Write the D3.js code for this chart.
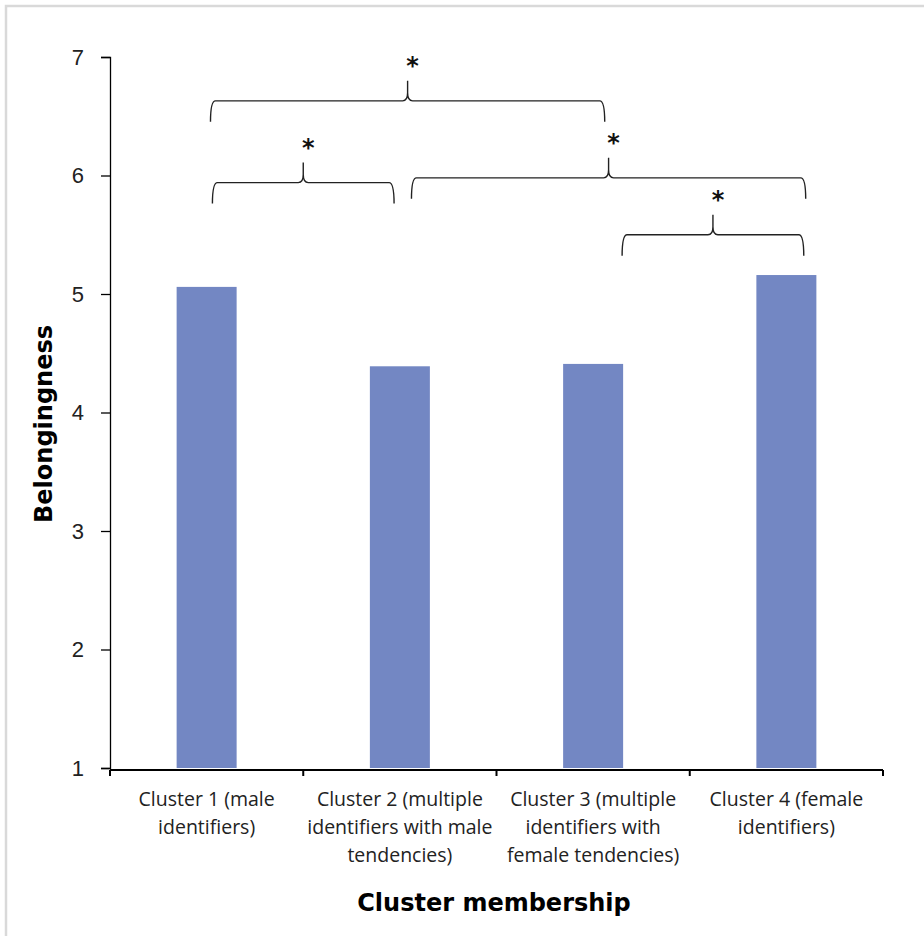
<!DOCTYPE html>
<html>
<head>
<meta charset="utf-8">
<script src="https://cdn.jsdelivr.net/npm/d3@7"></script>
<style>
  body { margin: 0; background: #fff; }
  svg { display: block; }
  text { font-variant-ligatures: none; }
</style>
</head>
<body>
<svg width="924" height="936"></svg>
<script>
// data
const clusters = [
  ["Cluster 1 (male", "identifiers)"],
  ["Cluster 2 (multiple", "identifiers with male", "tendencies)"],
  ["Cluster 3 (multiple", "identifiers with", "female tendencies)"],
  ["Cluster 4 (female", "identifiers)"]
];
const belonging = [5.06, 4.39, 4.41, 5.16];
const yTicks = [1, 2, 3, 4, 5, 6, 7];

// significance brackets: span in category units, level in y units
const bracketFrom = [0.52, 0.53, 1.56, 2.65];
const bracketTo = [2.56, 1.47, 3.60, 3.59];
const bracketLevel = [6.63, 5.94, 5.98, 5.50];
const bracketLabel = ["*", "*", "*", "*"];

const svg = d3.select("svg");

// grey frame (cropped screenshot edge)
svg.append("rect").attr("x", 6).attr("y", 6).attr("width", 940).attr("height", 960)
  .attr("fill", "none").attr("stroke", "#d9d9d9").attr("stroke-width", 2.5);

const plot = {left: 110, right: 883, top: 57, bottom: 768};

const x = d3.scaleBand().domain(d3.range(clusters.length)).range([plot.left, plot.right]).paddingInner(0).paddingOuter(0);
const xPos = d3.scaleLinear().domain([0, clusters.length]).range([plot.left, plot.right]);
const y = d3.scaleLinear().domain([1, 7]).range([plot.bottom, plot.top]);

const barW = 60;

// bars
svg.append("g").selectAll("rect").data(belonging).enter().append("rect")
  .attr("x", (d, i) => x(i) + x.bandwidth() / 2 - barW / 2)
  .attr("y", d => y(d))
  .attr("width", barW)
  .attr("height", d => y(1) - y(d))
  .attr("fill", "#7387c3");

// y axis
const yAxis = svg.append("g").attr("transform", `translate(${plot.left},0)`)
  .call(d3.axisLeft(y).tickValues(yTicks).tickSize(9).tickPadding(17).tickFormat(d3.format("d")));
yAxis.select(".domain").attr("stroke", "#000").attr("stroke-width", 1.3);
yAxis.selectAll(".tick line").attr("stroke", "#000").attr("stroke-width", 1.3);
yAxis.selectAll(".tick text").attr("font-family", "Liberation Sans, Arial, sans-serif")
  .attr("font-size", 22).attr("fill", "#222");

// x axis
const xAxisG = svg.append("g").attr("transform", `translate(0,${plot.bottom + 2})`);
xAxisG.append("line").attr("x1", plot.left).attr("x2", plot.right).attr("y1", 0).attr("y2", 0)
  .attr("stroke", "#000").attr("stroke-width", 2);
xAxisG.selectAll("line.tk").data(d3.range(clusters.length + 1)).enter().append("line")
  .attr("class", "tk")
  .attr("x1", d => xPos(d)).attr("x2", d => xPos(d))
  .attr("y1", 0).attr("y2", 6)
  .attr("stroke", "#000").attr("stroke-width", 2);

const labels = svg.append("g").selectAll("text").data(clusters).enter().append("text")
  .attr("x", (d, i) => x(i) + x.bandwidth() / 2)
  .attr("y", 806)
  .attr("text-anchor", "middle")
  .attr("font-family", "Open Sans, sans-serif")
  .attr("font-size", 19.5)
  .attr("fill", "#222");
labels.selectAll("tspan").data(d => d).enter().append("tspan")
  .attr("x", function () { return d3.select(this.parentNode).attr("x"); })
  .attr("dy", (d, i) => i === 0 ? 0 : 28)
  .text(d => d);

// axis titles
svg.append("text").attr("x", 494).attr("y", 911).attr("text-anchor", "middle")
  .attr("font-family", "DejaVu Sans, sans-serif").attr("font-weight", 700).attr("font-size", 24)
  .attr("fill", "#000").text("Cluster membership");
svg.append("text").attr("transform", "translate(52,424) rotate(-90)").attr("text-anchor", "middle")
  .attr("font-family", "DejaVu Sans, sans-serif").attr("font-weight", 700).attr("font-size", 24)
  .attr("fill", "#000").text("Belongingness");

// brackets
const arm = 21, peak = 20;
function bracketPath(x1, x2, ly) {
  const xm = (x1 + x2) / 2;
  const r = 5;
  return `M${x1},${ly + arm} Q${x1},${ly} ${x1 + r},${ly} L${xm - 5},${ly} Q${xm},${ly} ${xm},${ly - 8} L${xm},${ly - peak}` +
    ` M${xm},${ly - 8} Q${xm},${ly} ${xm + 5},${ly} L${x2 - r},${ly} Q${x2},${ly} ${x2},${ly + arm}`;
}
const br = svg.append("g").selectAll("g").data(bracketLevel).enter().append("g");
br.append("path")
  .attr("d", (d, i) => bracketPath(xPos(bracketFrom[i]), xPos(bracketTo[i]), y(d)))
  .attr("fill", "none").attr("stroke", "#222").attr("stroke-width", 1.4);
br.append("text")
  .attr("x", (d, i) => (xPos(bracketFrom[i]) + xPos(bracketTo[i])) / 2 + 5)
  .attr("y", d => y(d) - peak - 7)
  .attr("text-anchor", "middle")
  .attr("font-family", "DejaVu Sans, sans-serif").attr("font-weight", 700).attr("font-size", 24)
  .attr("fill", "#111")
  .text((d, i) => bracketLabel[i]);
</script>
</body>
</html>
